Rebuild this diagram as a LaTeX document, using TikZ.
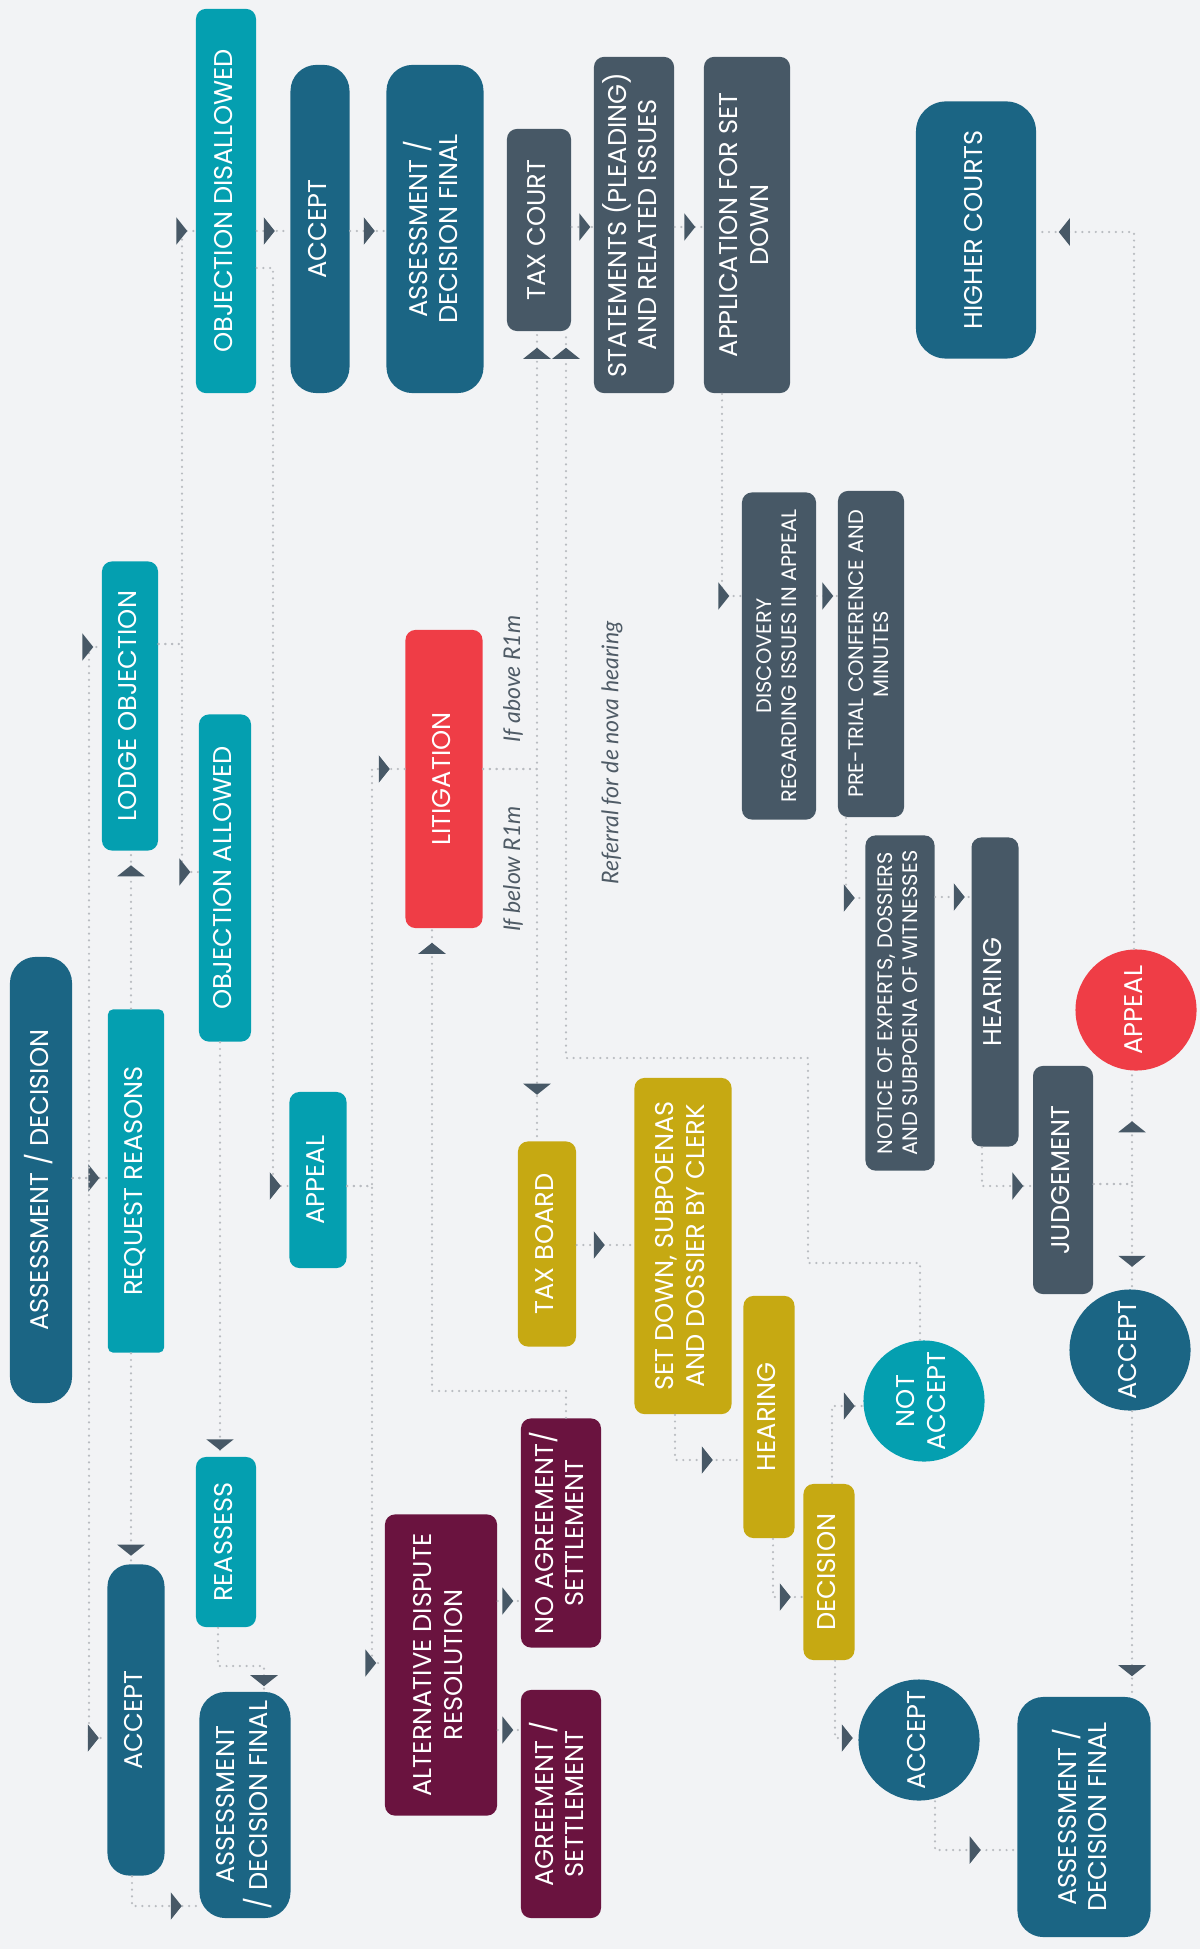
\documentclass[tikz,border=0pt]{standalone}
\usepackage{fontspec}
\setmainfont{Poppins}
\newfontfamily\notefont{Lato}
\usepackage{graphicx}
\usetikzlibrary{arrows.meta,decorations.markings}

\definecolor{bgc}{HTML}{F2F3F5}
\definecolor{tealc}{HTML}{049FB0}
\definecolor{bluec}{HTML}{1B6584}
\definecolor{slatec}{HTML}{475866}
\definecolor{redc}{HTML}{EF3D46}
\definecolor{goldc}{HTML}{C6A912}
\definecolor{plumc}{HTML}{6A133F}
\definecolor{linec}{HTML}{B9BCC1}
\definecolor{tipc}{HTML}{475866}
\definecolor{notec}{HTML}{4F5B66}

\newcommand{\vtext}[1]{\rotatebox{90}{\begin{tabular}{@{}c@{}}#1\end{tabular}}}

\tikzset{
  box/.style={rectangle, rounded corners=0.1cm, fill=#1, text=white, inner sep=0pt,
    font=\fontsize{7.3}{8.6}\selectfont},
  pill/.style={box=#1, rounded corners=0.26cm},
  disc/.style={circle, fill=#1, text=white, inner sep=0pt, minimum size=1.21cm,
    font=\fontsize{7.3}{8.6}\selectfont},
  smalltext/.style={font=\fontsize{5.95}{7.1}\selectfont},
  flow/.style={draw=linec, line width=0.7pt, dash pattern=on 0pt off 1.9pt, line cap=round,
    postaction={decorate, decoration={markings, mark=at position -#1 with
      {\pgfsetdash{}{0pt}\arrow{Triangle[length=0.11cm,width=0.27cm,color=tipc]}}}}},
  flow/.default=0.08cm,
  note/.style={rotate=90, text=notec, font=\notefont\itshape\fontsize{6.55}{7.5}\selectfont}
}

\begin{document}
\begin{tikzpicture}[x=0.01cm, y=-0.01cm]
\fill[bgc] (0,0) rectangle (1200,1949);

% objection stage
\node[pill=bluec, minimum width=0.62cm, minimum height=4.46cm] (assess) at (41,1180) {\vtext{ASSESSMENT / DECISION}};
\node[box=tealc, rounded corners=0.05cm, minimum width=0.56cm, minimum height=3.43cm] (reasons) at (136,1181) {\vtext{REQUEST REASONS}};
\node[box=tealc, minimum width=0.56cm, minimum height=2.89cm] (lodge) at (130,706) {\vtext{LODGE OBJECTION}};
\node[box=tealc, minimum width=0.52cm, minimum height=3.27cm] (objall) at (225,878) {\vtext{OBJECTION ALLOWED}};
\node[box=tealc, minimum width=0.60cm, minimum height=3.84cm] (objdis) at (226,201) {\vtext{OBJECTION DISALLOWED}};
\node[pill=bluec, minimum width=0.59cm, minimum height=3.28cm] (acctop) at (320,229) {\vtext{ACCEPT}};
\node[pill=bluec, minimum width=0.97cm, minimum height=3.28cm] (fintop) at (435,229) {\vtext{ASSESSMENT /\\DECISION FINAL}};
\node[box=tealc, minimum width=0.60cm, minimum height=1.70cm] (reass) at (226,1542) {\vtext{REASSESS}};
\node[pill=bluec, rounded corners=0.22cm, minimum width=0.57cm, minimum height=3.11cm] (accleft) at (136,1720) {\vtext{ACCEPT}};
\node[pill=bluec, minimum width=0.91cm, minimum height=2.26cm] (finleft) at (245,1805) {\vtext{ASSESSMENT\\/ DECISION FINAL}};
\node[box=tealc, minimum width=0.57cm, minimum height=1.76cm] (apptb) at (318,1180) {\vtext{APPEAL}};

% litigation and dispute resolution
\node[box=redc, minimum width=0.77cm, minimum height=2.98cm] (litig) at (444,779) {\vtext{LITIGATION}};
\node[box=plumc, minimum width=1.12cm, minimum height=3.01cm] (adr) at (441,1665) {\vtext{ALTERNATIVE DISPUTE\\RESOLUTION}};
\node[box=plumc, minimum width=0.80cm, minimum height=2.29cm] (noagr) at (561,1533) {\vtext{NO AGREEMENT/\\SETTLEMENT}};
\node[box=plumc, minimum width=0.80cm, minimum height=2.28cm] (agree) at (561,1804) {\vtext{AGREEMENT /\\SETTLEMENT}};

% tax court
\node[box=slatec, minimum width=0.64cm, minimum height=2.02cm] (taxct) at (539,230) {\vtext{TAX COURT}};
\node[box=slatec, minimum width=0.80cm, minimum height=3.36cm] (stmt) at (634,225) {\vtext{STATEMENTS (PLEADING)\\AND RELATED ISSUES}};
\node[box=slatec, minimum width=0.86cm, minimum height=3.36cm] (apply) at (747,225) {\vtext{APPLICATION FOR SET\\DOWN}};
\node[pill=bluec, rounded corners=0.3cm, minimum width=1.20cm, minimum height=2.57cm] (higher) at (976,230) {\vtext{HIGHER COURTS}};
\node[box=slatec, smalltext, minimum width=0.74cm, minimum height=3.27cm] (disc) at (779,656) {\vtext{DISCOVERY\\REGARDING ISSUES IN APPEAL}};
\node[box=slatec, smalltext, minimum width=0.66cm, minimum height=3.26cm] (pretr) at (871,654) {\vtext{PRE-TRIAL CONFERENCE AND\\MINUTES}};
\node[box=slatec, smalltext, minimum width=0.69cm, minimum height=3.35cm] (notice) at (900,1003) {\vtext{NOTICE OF EXPERTS, DOSSIERS\\AND SUBPOENA OF WITNESSES}};
\node[box=slatec, minimum width=0.47cm, minimum height=3.09cm] (heartc) at (995,992) {\vtext{HEARING}};
\node[box=slatec, minimum width=0.60cm, minimum height=2.28cm] (judge) at (1063,1180) {\vtext{JUDGEMENT}};
\node[disc=redc] (apphi) at (1136,1010) {\vtext{APPEAL}};
\node[disc=bluec] (acchi) at (1130,1350) {\vtext{ACCEPT}};
\node[pill=bluec, minimum width=1.33cm, minimum height=2.40cm] (finlo) at (1084,1817) {\vtext{ASSESSMENT /\\DECISION FINAL}};

% tax board
\node[box=goldc, minimum width=0.58cm, minimum height=2.05cm] (taxbd) at (547,1244) {\vtext{TAX BOARD}};
\node[box=goldc, minimum width=0.97cm, minimum height=3.36cm] (setdn) at (683,1246) {\vtext{SET DOWN, SUBPOENAS\\AND DOSSIER BY CLERK}};
\node[box=goldc, minimum width=0.51cm, minimum height=2.42cm] (heartb) at (769,1417) {\vtext{HEARING}};
\node[box=goldc, minimum width=0.51cm, minimum height=1.76cm] (decis) at (829,1572) {\vtext{DECISION}};
\node[disc=tealc] (notacc) at (924,1401) {\vtext{NOT\\ACCEPT}};
\node[disc=bluec] (acclo) at (919,1740) {\vtext{ACCEPT}};

\node[note] (above) at (513,679) {If above R1m};
\node[note] (below) at (513,869) {If below R1m};
\node[note] (referral) at (612,753) {Referral for de nova hearing};

% connectors
\draw[flow] (assess.east |- 0,1178) -- (reasons.west |- 0,1178);
\draw[flow] (assess.east |- 0,1178) -| (89,647) -- (lodge.west |- 0,647);
\draw[flow] (assess.east |- 0,1178) -| (89,1738) -- (accleft.west |- 0,1738);
\draw[flow=0.14cm] (reasons.north -| 131,0) -- (lodge.south -| 131,0);
\draw[flow] (reasons.south -| 131,0) -- (accleft.north -| 131,0);
\draw[flow] (lodge.east |- 0,644) -| (182,231) -- (objdis.west |- 0,231);
\draw[flow] (lodge.east |- 0,644) -| (182,872) -- (objall.west |- 0,872);
\draw[flow=0.15cm] (objdis.east |- 0,231) -- (acctop.west |- 0,231);
\draw[flow] (objdis.east |- 0,268) -| (273,1186) -- (apptb.west |- 0,1186);
\draw[flow=0.11cm] (acctop.east |- 0,231) -- (fintop.west |- 0,231);
\draw[flow=0.06cm] (objall.south -| 220,0) -- (reass.north -| 220,0);
\draw[flow=0.05cm] (reass.south -| 218,0) -- (218,1666) -| (finleft.north -| 264,0);
\draw[flow=0.17cm] (accleft.south -| 132,0) |- (finleft.west |- 0,1906);
\draw[flow=0.15cm] (apptb.east |- 0,1186) -| (372,769) -- (litig.west |- 0,769);
\draw[flow] (apptb.east |- 0,1186) -| (372,1663) -- (adr.west |- 0,1663);
\draw[flow=0.16cm] (litig.east |- 0,769) -| (taxct.south -| 537,0);
\draw[flow=0.46cm] (litig.east |- 0,769) -| (taxbd.north -| 537,0);
\draw[flow=0.14cm] (noagr.north -| 566,0) -- (566,1391) -| (litig.south -| 432,0);
\draw[flow=0.16cm] (notacc.north -| 920,0) -- (920,1263) -| (808,1058) -| (taxct.south -| 566,0);
\draw[flow=0.03cm] (taxct.east |- 0,227) -- (stmt.west |- 0,227);
\draw[flow] (stmt.east |- 0,227) -- (apply.west |- 0,227);
\draw[flow=0.12cm] (apply.south -| 722,0) |- (disc.west |- 0,596);
\draw[flow=0.04cm] (disc.east |- 0,596) -- (pretr.west |- 0,596);
\draw[flow=0.1cm] (pretr.south -| 846,0) |- (notice.west |- 0,898);
\draw[flow=0.06cm] (notice.east |- 0,897) -- (heartc.west |- 0,897);
\draw[flow=0.09cm] (heartc.south -| 982,0) |- (judge.west |- 0,1186);
\draw[flow=0.5cm] (judge.east |- 0,1184) -| (apphi.south -| 1132,0);
\draw[flow=0.22cm] (judge.east |- 0,1184) -| (acchi.north -| 1132,0);
\draw[flow=0.22cm] (apphi.north -| 1134,0) |- (higher.east |- 0,232);
\draw[flow=0.2cm] (acchi.south -| 1132,0) -- (finlo.north -| 1132,0);
\draw[flow=0.29cm] (taxbd.east |- 0,1245) -- (setdn.west |- 0,1245);
\draw[flow=0.3cm] (setdn.south -| 675,0) |- (heartb.west |- 0,1460);
\draw[flow=0.12cm] (heartb.south -| 773,0) |- (decis.west |- 0,1597);
\draw[flow] (decis.north -| 832,0) |- (notacc.west |- 0,1406);
\draw[flow=0.05cm] (decis.south -| 835,0) |- (acclo.west |- 0,1738);
\draw[flow=0.36cm] (acclo.south -| 935,0) |- (finlo.west |- 0,1850);
\draw[flow=0.07cm] (adr.east |- 0,1601) -- (noagr.west |- 0,1601);
\draw[flow=0.07cm] (adr.east |- 0,1730) -- (agree.west |- 0,1730);
\end{tikzpicture}
\end{document}
